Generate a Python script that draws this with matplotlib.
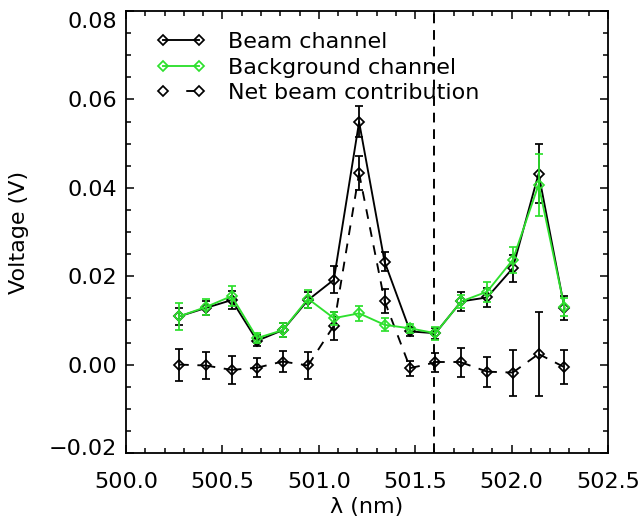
import matplotlib
matplotlib.use("Agg")
import matplotlib.pyplot as plt
from matplotlib.lines import Line2D
from matplotlib.ticker import MultipleLocator, FixedLocator, FuncFormatter
from matplotlib.transforms import ScaledTranslation

plt.rcParams['font.family'] = ['DejaVu Sans']

wavelength = [500.275, 500.413, 500.548, 500.680, 500.813, 500.944, 501.078, 501.209,
              501.341, 501.474, 501.605, 501.739, 501.873, 502.006, 502.140, 502.274]

beam = [0.0109, 0.0128, 0.0146, 0.0054, 0.0078, 0.0146, 0.0192, 0.0549,
        0.0233, 0.0075, 0.0071, 0.0143, 0.0152, 0.0218, 0.0432, 0.0128]
beam_err = [0.0020, 0.0015, 0.0020, 0.0012, 0.0015, 0.0018, 0.0030, 0.0035,
            0.0022, 0.0010, 0.0012, 0.0022, 0.0022, 0.0030, 0.0066, 0.0028]

background = [0.0109, 0.0130, 0.0155, 0.0060, 0.0078, 0.0149, 0.0105, 0.0116,
              0.0090, 0.0082, 0.0071, 0.0143, 0.0165, 0.0237, 0.0407, 0.0130]
background_err = [0.0030, 0.0018, 0.0023, 0.0012, 0.0015, 0.0020, 0.0015, 0.0017,
                  0.0015, 0.0010, 0.0015, 0.0015, 0.0023, 0.0030, 0.0070, 0.0020]

net = [0.0000, -0.0002, -0.0012, -0.0007, 0.0007, -0.0002, 0.0088, 0.0433,
       0.0144, -0.0008, 0.0005, 0.0005, -0.0016, -0.0018, 0.0024, -0.0006]
net_err = [0.0036, 0.0030, 0.0032, 0.0022, 0.0023, 0.0030, 0.0032, 0.0038,
           0.0027, 0.0017, 0.0022, 0.0032, 0.0034, 0.0052, 0.0095, 0.0038]

yticks = [-0.02, 0.00, 0.02, 0.04, 0.06, 0.08]
xticks = [500.0, 500.5, 501.0, 501.5, 502.0, 502.5]
line_position = 501.6
labels = ['Beam channel', 'Background channel', 'Net beam contribution']
green = '#2ee02e'
FS = 16
LW = 1.35
seg_dash = (0, (5.2, 4.6))

fig = plt.figure(figsize=(6.41, 5.2), dpi=100)
ax = fig.add_axes([126/641, 1-453/520, (608-126)/641, (453-11)/520])

mk = dict(marker='D', ms=5.2, mfc='none', mew=1.25, lw=LW)
eb = dict(capsize=2.6, elinewidth=1.3, capthick=1.2)
ax.errorbar(wavelength, beam, yerr=beam_err, color='black', ls='-', zorder=3, **mk, **eb)
ax.errorbar(wavelength, background, yerr=background_err, color=green, ls='-', zorder=4, **mk, **eb)
ax.errorbar(wavelength, net, yerr=net_err, color='black', ls='none', zorder=3, **mk, **eb)
for i in range(len(wavelength) - 1):
    ax.plot(wavelength[i:i + 2], net[i:i + 2], color='black', lw=LW, ls=seg_dash, zorder=3)
ax.axvline(line_position, color='black', lw=1.4, ls=(0, (5, 3.5)), zorder=2)

ax.set_xlim(500.0, 502.5)
ax.set_ylim(-0.02, 0.08)
ax.xaxis.set_major_locator(FixedLocator(xticks))
ax.xaxis.set_minor_locator(MultipleLocator(0.1))
ax.yaxis.set_major_locator(FixedLocator(yticks))
ax.yaxis.set_minor_locator(MultipleLocator(0.005))
ax.xaxis.set_major_formatter(FuncFormatter(lambda v, p: f"{v:.1f}"))
ax.yaxis.set_major_formatter(FuncFormatter(lambda v, p: f"{v:.2f}".replace('-', '\u2212')))
ax.tick_params(which='both', direction='in', top=True, right=True, labelsize=FS, width=1.1)
ax.tick_params(which='major', length=6)
ax.tick_params(which='minor', length=3.5)
ax.tick_params(axis='y', which='major', pad=6.5)
ax.tick_params(axis='x', which='major', pad=14)
for s in ax.spines.values():
    s.set_linewidth(1.3)

# IDL-style: keep end labels inside the axis height
ticks = ax.yaxis.get_major_ticks(len(yticks))
ticks[0].label1.set_transform(ticks[0].label1.get_transform() + ScaledTranslation(0, 0.06, fig.dpi_scale_trans))
ticks[-1].label1.set_transform(ticks[-1].label1.get_transform() + ScaledTranslation(0, -0.09, fig.dpi_scale_trans))

ax.set_xlabel('λ (nm)', fontsize=FS, labelpad=3)
ax.set_ylabel('Voltage (V)', fontsize=FS, labelpad=14)

handles = [
    Line2D([], [], color='black', ls='-', **mk),
    Line2D([], [], color=green, ls='-', **mk),
    Line2D([], [], color='black', ls=(52.0, (4.4, 60)), **mk),
]
ax.legend(handles, labels, loc='upper left', frameon=False, fontsize=FS, numpoints=2,
          handlelength=2.25, handletextpad=1.0, labelspacing=0.24,
          borderpad=0, borderaxespad=0, bbox_to_anchor=(0.062, 0.952))

fig.savefig('out.png', dpi=100)
